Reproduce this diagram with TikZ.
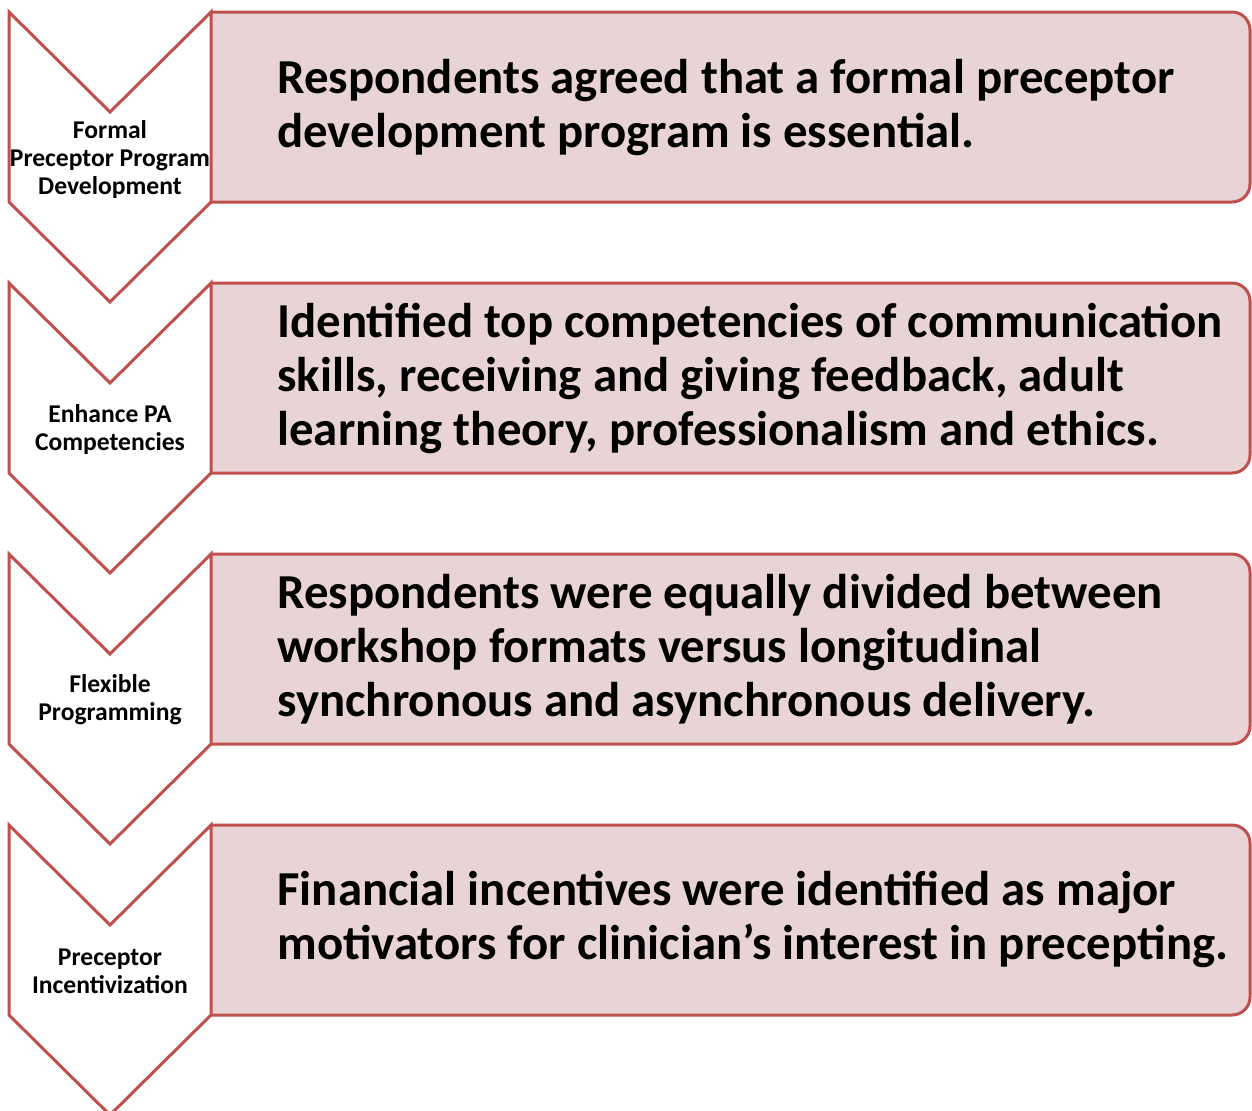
\documentclass[tikz,border=0pt]{standalone}
\usepackage{fontspec}
\setmainfont{Carlito}
\definecolor{stagered}{RGB}{192,80,77}
\definecolor{stagepink}{RGB}{232,212,212}
\begin{document}
\begin{tikzpicture}[x=0.5pt,y=-0.5pt]
    \tikzstyle{chevron} = [draw=stagered, line width=1.5pt, fill=white, line join=miter]
    \tikzstyle{panel} = [draw=stagered, line width=1.5pt, fill=stagepink]
    \tikzstyle{stagetext} = [align=center, inner sep=0pt, font=\bfseries\fontsize{12.8}{14}\selectfont]
    \tikzstyle{findingtext} = [anchor=west, align=left, inner sep=0pt, font=\bfseries\fontsize{24.4}{27}\selectfont]

    \useasboundingbox (0,0) rectangle (1252,1110);

    % panels and chevrons, one row per stage
    \foreach \t in {12,283,554,825} {
        \draw [panel] (211,\t) [rounded corners=9pt] -- (1250,\t) -- (1250,\t+190) -- (211,\t+190);
        \draw [chevron] (9,\t) -- (110,\t+100) -- (211,\t) -- (211,\t+190) -- (110,\t+290) -- (9,\t+190) -- cycle;
    }

    \node (s1) [stagetext] at (110,160) {Formal\\Preceptor Program\\Development};
    \node (s2) [stagetext] at (110,430) {Enhance PA\\Competencies};
    \node (s3) [stagetext] at (110,700) {Flexible\\Programming};
    \node (s4) [stagetext] at (110,971) {Preceptor\\Incentivization};

    \node (f1) [findingtext] at (277,108) {Respondents agreed that a formal preceptor\\development program is essential.};
    \node (f2) [findingtext] at (277,378) {Identified top competencies of communication\\skills, receiving and giving feedback, adult\\learning theory, professionalism and ethics.};
    \node (f3) [findingtext] at (277,649) {Respondents were equally divided between\\workshop formats versus longitudinal\\synchronous and asynchronous delivery.};
    \node (f4) [findingtext] at (277,919) {Financial incentives were identified as major\\motivators for clinician’s interest in precepting.};
\end{tikzpicture}
\end{document}
